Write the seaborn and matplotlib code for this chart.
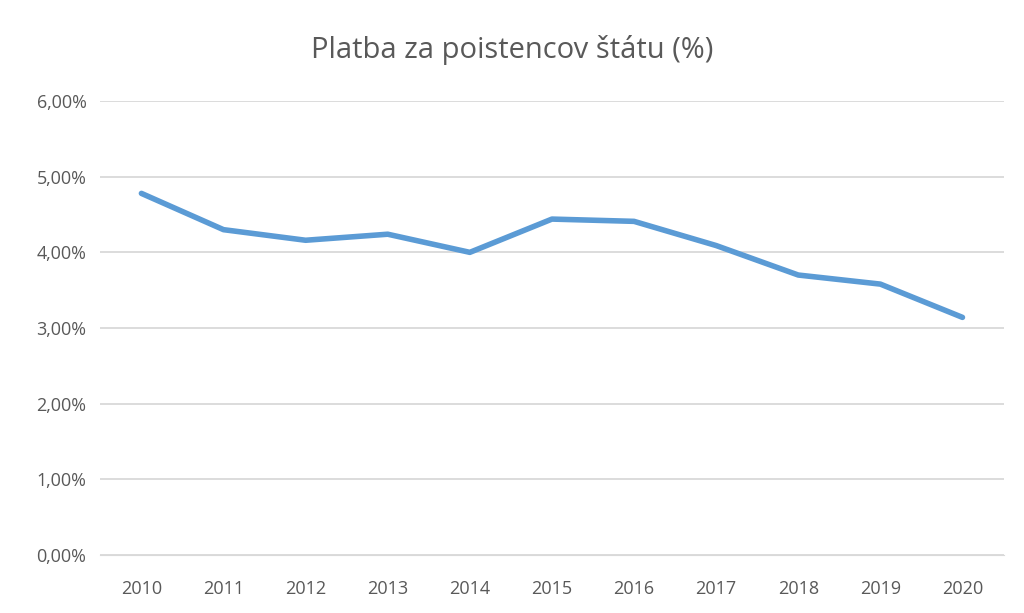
import matplotlib
matplotlib.use("Agg")
import matplotlib.pyplot as plt
import seaborn as sns
import pandas as pd
from matplotlib.ticker import FuncFormatter

years = ["2010", "2011", "2012", "2013", "2014", "2015", "2016", "2017", "2018", "2019", "2020"]
values = [4.78, 4.30, 4.16, 4.24, 4.00, 4.44, 4.41, 4.09, 3.70, 3.58, 3.14]
y_ticks = [0, 1, 2, 3, 4, 5, 6]

df = pd.DataFrame({"rok": range(len(years)), "hodnota": values})

plt.rcParams["font.family"] = "Open Sans"
fig = plt.figure(figsize=(10.24, 6.13), dpi=100)
ax = fig.add_axes([0.098, 0.095, 0.882, 0.74])
sns.lineplot(data=df, x="rok", y="hodnota", ax=ax, color="#5B9BD5", lw=4,
             solid_capstyle="round")

ax.set_xlim(-0.5, len(years) - 0.5)
ax.set_ylim(0, 6)
ax.set_yticks(y_ticks)
ax.yaxis.set_major_formatter(FuncFormatter(lambda v, _: f"{v:.2f}%".replace(".", ",")))
ax.set_xticks(range(len(years)))
ax.set_xticklabels(years)
ax.grid(axis="y", color="#D9D9D9", lw=1.3)
ax.set_axisbelow(True)
for s in ["top", "right", "left"]:
    ax.spines[s].set_visible(False)
ax.spines["bottom"].set_color("#D9D9D9")
ax.tick_params(axis="y", length=0, colors="#595959", labelsize=13, pad=10)
ax.tick_params(axis="x", length=0, colors="#595959", labelsize=13, pad=18)
ax.set_xlabel("")
ax.set_ylabel("")
fig.text(0.5, 0.905, "Platba za poistencov štátu (%)", ha="center",
         fontsize=21, color="#595959")

fig.savefig("out.png", dpi=100, facecolor="white")
